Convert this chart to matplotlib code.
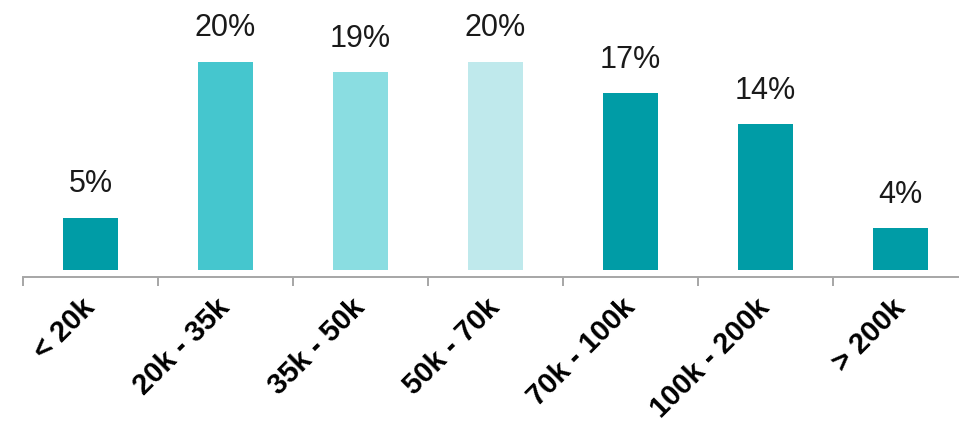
import matplotlib
matplotlib.use("Agg")
import matplotlib.pyplot as plt
import numpy as np

# Income bands and share of respondents (%)
categories = ["< 20k", "20k - 35k", "35k - 50k", "50k - 70k", "70k - 100k", "100k - 200k", "> 200k"]
shares = [5, 20, 19, 20, 17, 14, 4]
bar_colors = ["#009ca6", "#45c6ce", "#8adde1", "#bfe9ec", "#009ca6", "#009ca6", "#009ca6"]

W, H = 959, 425
fig = plt.figure(figsize=(W / 100, H / 100), dpi=100)

# axis line sits at y=277 px from top, spans 7 bands of 135 px starting at x=23
left_px, band_px, axis_px = 23, 135, 277
ax = fig.add_axes([left_px / W, (H - axis_px) / H, 7 * band_px / W, axis_px / H])

x = np.arange(len(categories))
ax.bar(x, shares, width=0.41, color=bar_colors, zorder=2)

px_per_unit = 10.4
y0 = -7 / px_per_unit
ax.set_xlim(-0.5, len(categories) - 0.5)
ax.set_ylim(y0, y0 + axis_px / px_per_unit)

for xi, v in zip(x, shares):
    ax.annotate(f"{v}%", (xi, v), xytext=(0, 18.5), textcoords="offset points",
                ha="center", va="baseline", fontsize=22, family="Liberation Sans",
                color="#1a1a1a")

for side in ("top", "right", "left"):
    ax.spines[side].set_visible(False)
ax.spines["bottom"].set_color("#a6a6a6")
ax.spines["bottom"].set_linewidth(1.4)
ax.set_yticks([])

# boundary ticks between bands
ax.set_xticks(np.arange(len(categories)) - 0.5)
ax.tick_params(axis="x", which="major", length=6.5, width=1.4, color="#a6a6a6",
               labelbottom=False)
# band labels at centres
ax.set_xticks(x, minor=True)
ax.set_xticklabels(categories, minor=True, rotation=45, ha="right", va="center",
                   rotation_mode="anchor", fontsize=21, fontweight="bold",
                   family="Liberation Sans")
ax.tick_params(axis="x", which="minor", length=0, pad=19)

fig.savefig("out.png", dpi=100)
